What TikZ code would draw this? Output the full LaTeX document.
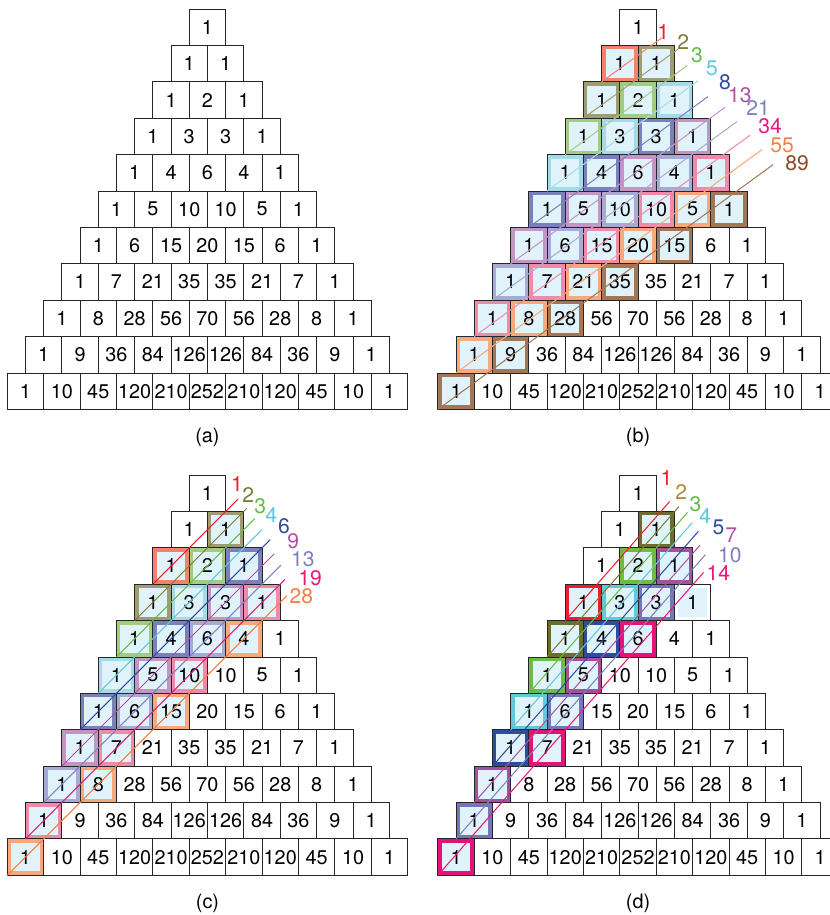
\documentclass[tikz,border=0pt]{standalone}
\usepackage{fontspec}
\setmainfont{TeX Gyre Heros}
\usetikzlibrary{calc}

\definecolor{fillblue}{HTML}{E0F3FA}
% strong colours (labels, lines)
\definecolor{cred}{HTML}{E8202A}
\definecolor{colive}{HTML}{7D7A32}
\definecolor{cgold}{HTML}{AE8A3E}
\definecolor{cgreen}{HTML}{62BD48}
\definecolor{ccyan}{HTML}{5EC8DE}
\definecolor{cblue}{HTML}{2F4C9C}
\definecolor{cpurple}{HTML}{AF519F}
\definecolor{clav}{HTML}{7E7FC1}
\definecolor{cpink}{HTML}{E8197A}
\definecolor{corange}{HTML}{F47F3F}
\definecolor{cbrown}{HTML}{8B4A22}
% pale frames
\definecolor{lred}{HTML}{F2826A}
\definecolor{lolive}{HTML}{A09C72}
\definecolor{lgreen}{HTML}{A2CC82}
\definecolor{lcyan}{HTML}{A6DAE8}
\definecolor{lblue}{HTML}{7A80BC}
\definecolor{lpurple}{HTML}{C494C2}
\definecolor{llav}{HTML}{A8A9D5}
\definecolor{lpink}{HTML}{F08AAA}
\definecolor{lorange}{HTML}{F7A97B}
\definecolor{lbrown}{HTML}{A27656}
% dark frames for (d)
\definecolor{dred}{HTML}{E82028}
\definecolor{dolive}{HTML}{6E6B2E}
\definecolor{dgreen}{HTML}{6DBD45}
\definecolor{dcyan}{HTML}{62C9DA}
\definecolor{dblue}{HTML}{2F4C9C}
\definecolor{dpurple}{HTML}{A64F9C}
\definecolor{dlav}{HTML}{7476B6}
\definecolor{dpink}{HTML}{E5127A}

\newcommand\numfont{\fontsize{15.5}{15.5}\selectfont}
\newcommand\labfont{\fontsize{16.5}{16.5}\selectfont}
\newcommand\pascalrows{{1},{1,1},{1,2,1},{1,3,3,1},{1,4,6,4,1},{1,5,10,10,5,1},{1,6,15,20,15,6,1},{1,7,21,35,35,21,7,1},{1,8,28,56,70,56,28,8,1},{1,9,36,84,126,126,84,36,9,1},{1,10,45,120,210,252,210,120,45,10,1}}
% one triangle, nodes named <panel>-<row>-<pos>
\newcommand\drawpyramid[1]{%
  \foreach \row [count=\r from 0] in \pascalrows {%
    \foreach \v [count=\k from 0] in \row {%
      \node[cell] (#1-\r-\k) at ($(p#1)+(\k-\r/2,-\r-0.5)$) {\v};
    }%
  }%
}

\begin{document}
\begin{tikzpicture}[cell/.style={draw=black!85, line width=0.7pt, minimum size=1cm, inner sep=0pt, outer sep=0pt, font=\numfont},
  hl/.style={draw=#1, line width=1.1mm, fill=fillblue, minimum size=0.89cm, inner sep=0pt},
  hlfill/.style={fill=fillblue, minimum size=0.78cm, inner sep=0pt},
  diag/.style={line width=0.8pt},
  lab/.style={font=\labfont, inner sep=0pt},
  subcap/.style={font=\numfont}]
\useasboundingbox (0,0) rectangle (22.80,-25.14);
\coordinate (pa) at (5.70,-0.247);
\coordinate (pb) at (17.53,-0.247);
\coordinate (pc) at (5.70,-13.05);
\coordinate (pd) at (17.53,-13.05);

% (a)
\drawpyramid{a}
\node[subcap] (cap-a) at (5.70,-12.01) {(a)};

% (b) shallow diagonals, Fibonacci
\foreach \j/\fc in {1/lred,2/lolive,3/lgreen,4/lcyan,5/lblue,6/lpurple,7/llav,8/lpink,9/lorange,10/lbrown} {
  \foreach \k in {0,...,5} {
    \pgfmathtruncatemacro\r{\j-\k}
    \ifnum\r<\k\else \node[hl=\fc] (b-h-\r-\k) at ($(pb)+(\k-\r/2,-\r-0.5)$) {};\fi
  }
}
\drawpyramid{b}
\foreach \j/\dx/\lc/\tc/\lx/\ly/\t in {1/1.66/lred/cred/0.69/0.63/1, 2/2.60/lolive/colive/1.24/0.91/2,
  3/3.35/lgreen/cgreen/1.62/1.26/3, 4/4.15/lcyan/ccyan/2.03/1.62/5, 5/4.92/lblue/cblue/2.39/2.01/8,
  6/5.89/lpurple/cpurple/2.80/2.36/13, 7/6.72/llav/clav/3.30/2.72/21, 8/7.58/lpink/cpink/3.63/3.21/34,
  9/8.41/lorange/corange/3.96/3.74/55, 10/9.21/lbrown/cbrown/4.37/4.23/89} {
  \coordinate (b-e-\j) at ($(b-\j-0.south west)+(\dx,0.73*\dx)$);
  \draw[diag, \lc] (b-\j-0.south west) -- (b-e-\j);
  \node[lab, text=\tc] (b-l-\j) at ($(pb)+(\lx,-\ly)$) {\t};
}
\node[subcap] (cap-b) at (17.53,-12.01) {(b)};

% (c) 45 degree diagonals
\foreach \j/\fc in {1/lred,2/lolive,3/lgreen,4/lcyan,5/lblue,6/lpurple,7/llav,8/lpink,9/lorange} {
  \foreach \k in {0,...,3} {
    \pgfmathtruncatemacro\r{\j+1-2*\k}
    \ifnum\r<\k\else \node[hl=\fc] (c-h-\r-\k) at ($(pc)+(\k-\r/2,-\r-0.5)$) {};\fi
  }
}
\drawpyramid{c}
\foreach \j/\dx/\lc/\lx/\ly/\t in {1/2.34/cred/0.81/0.25/1, 2/3.08/colive/1.12/0.56/2, 3/3.80/cgreen/1.45/0.85/3,
  4/4.50/ccyan/1.76/1.11/4, 5/5.22/cblue/2.10/1.40/6, 6/5.83/cpurple/2.36/1.81/9,
  7/6.52/clav/2.62/2.31/13, 8/7.13/cpink/2.82/2.83/19, 9/7.68/corange/2.58/3.33/28} {
  \pgfmathtruncatemacro\r{\j+1}
  \coordinate (c-e-\j) at ($(c-\r-0.south west)+(\dx,\dx)$);
  \draw[diag, \lc] (c-\r-0.south west) -- (c-e-\j);
  \node[lab, text=\lc] (c-l-\j) at ($(pc)+(\lx,-\ly)$) {\t};
}
\node[subcap] (cap-c) at (5.70,-24.81) {(c)};

% (d) steep diagonals
\foreach \j/\fc in {1/dred,2/dolive,3/dgreen,4/dcyan,5/dblue,6/dpurple,7/dlav,8/dpink} {
  \foreach \k in {0,...,2} {
    \pgfmathtruncatemacro\r{\j+2-3*\k}
    \ifnum\r<\k\else \node[hl=\fc] (d-h-\r-\k) at ($(pd)+(\k-\r/2,-\r-0.5)$) {};\fi
  }
}
\node[hlfill] (d-h-3-3) at ($(pd)+(3-1.5,-3.5)$) {};
\drawpyramid{d}
\foreach \j/\dx/\lc/\tc/\lx/\ly/\t in {1/2.87/cred/cred/0.78/0.07/1, 2/3.62/colive/cgold/1.19/0.48/2,
  3/4.36/cgreen/cgreen/1.58/0.81/3, 4/4.99/ccyan/ccyan/1.85/1.14/4, 5/5.66/cblue/cblue/2.21/1.43/5,
  6/6.20/cpurple/cpurple/2.56/1.66/7, 7/6.85/clav/clav/2.52/2.21/10, 8/7.30/cpink/cpink/2.21/2.70/14} {
  \pgfmathtruncatemacro\r{\j+2}
  \coordinate (d-e-\j) at ($(d-\r-0.south west)+(\dx,1.14*\dx)$);
  \draw[diag, \lc] (d-\r-0.south west) -- (d-e-\j);
  \node[lab, text=\tc] (d-l-\j) at ($(pd)+(\lx,-\ly)$) {\t};
}
\node[subcap] (cap-d) at (17.53,-24.81) {(d)};
\end{tikzpicture}
\end{document}
